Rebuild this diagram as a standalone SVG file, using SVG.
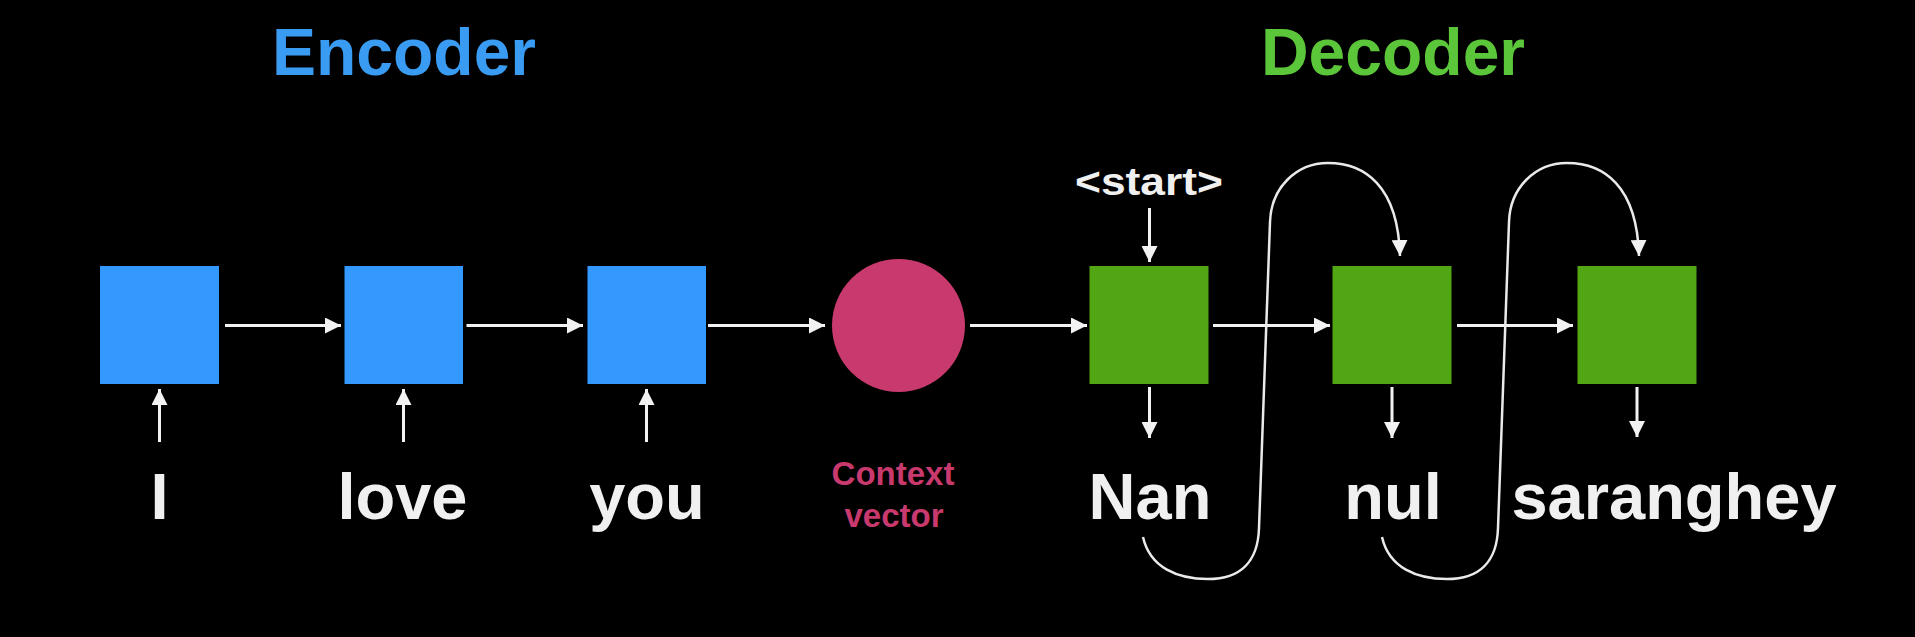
<svg xmlns="http://www.w3.org/2000/svg" width="1915" height="637" viewBox="0 0 1915 637">
<style>
.bg{fill:#000}
.enc{fill:#3399FF}
.dec{fill:#52A614}
.ctx{fill:#C8396E}
.word{font-family:"Liberation Sans",Arial,Helvetica,sans-serif;font-weight:bold;font-size:65px;fill:#F0F0F0;text-anchor:middle}
.title{font-family:"Liberation Sans",Arial,Helvetica,sans-serif;font-weight:bold;font-size:66px;text-anchor:middle}
.small{font-family:"Liberation Sans",Arial,Helvetica,sans-serif;font-weight:bold;font-size:33px;text-anchor:middle}
.arr{stroke:#F2F2F2;stroke-width:3;fill:none;marker-end:url(#ah)}
.loop{stroke:#EAEAEA;stroke-width:2.5;fill:none;marker-end:url(#ah)}
</style>
<defs>
<marker id="ah" markerUnits="userSpaceOnUse" markerWidth="16" markerHeight="16" refX="16" refY="8" orient="auto">
<path d="M0,0 L16,8 L0,16 Z" fill="#F2F2F2"/>
</marker>
</defs>
<rect class="bg" x="0" y="0" width="1915" height="637"/>
<text id="encoder-title" class="title" x="404" y="75" fill="#3A9BF2">Encoder</text>
<text id="decoder-title" class="title" x="1393" y="75" fill="#5CC63A">Decoder</text>
<g id="enc1"><rect class="enc" x="100" y="266" width="119" height="118"/></g>
<g id="enc2"><rect class="enc" x="344.5" y="266" width="118.5" height="118"/></g>
<g id="enc3"><rect class="enc" x="587.5" y="266" width="118.5" height="118"/></g>
<g id="context"><circle class="ctx" cx="898.5" cy="325.5" r="66.5"/>
<text class="small" x="893" y="485" fill="#C8396E">Context</text>
<text class="small" x="894" y="527" fill="#C8396E">vector</text></g>
<g id="dec1"><rect class="dec" x="1089.5" y="266" width="119" height="118"/></g>
<g id="dec2"><rect class="dec" x="1332.5" y="266" width="119" height="118"/></g>
<g id="dec3"><rect class="dec" x="1577.5" y="266" width="119" height="118"/></g>
<g id="in-I"><text class="word" x="159.5" y="519">I</text></g>
<g id="in-love"><text class="word" x="402.5" y="519">love</text></g>
<g id="in-you"><text class="word" x="647" y="519">you</text></g>
<g id="start"><text class="word" x="1149" y="195" style="font-size:38px" textLength="148" lengthAdjust="spacingAndGlyphs">&lt;start&gt;</text></g>
<g id="out-Nan"><text class="word" x="1150" y="519">Nan</text></g>
<g id="out-nul"><text class="word" x="1393" y="519">nul</text></g>
<g id="out-saranghey"><text class="word" x="1674" y="519">saranghey</text></g>
<g id="connectors">
<line class="arr" x1="225" y1="325.5" x2="341" y2="325.5"/>
<line class="arr" x1="466.5" y1="325.5" x2="583" y2="325.5"/>
<line class="arr" x1="708" y1="325.5" x2="825" y2="325.5"/>
<line class="arr" x1="970" y1="325.5" x2="1087" y2="325.5"/>
<line class="arr" x1="1213" y1="325.5" x2="1330" y2="325.5"/>
<line class="arr" x1="1457" y1="325.5" x2="1573" y2="325.5"/>
<line class="arr" x1="159.5" y1="442" x2="159.5" y2="389"/>
<line class="arr" x1="403.5" y1="442" x2="403.5" y2="389"/>
<line class="arr" x1="646.5" y1="442" x2="646.5" y2="389"/>
<line class="arr" x1="1149.5" y1="208" x2="1149.5" y2="262"/>
<line class="arr" x1="1149.5" y1="387" x2="1149.5" y2="438"/>
<line class="arr" x1="1392" y1="387" x2="1392" y2="438"/>
<line class="arr" x1="1637" y1="387" x2="1637" y2="437"/>
<path class="loop" d="M1143,537 C1150,568 1178,579 1208,579 C1240,579 1258,562 1259,528 L1270,222 C1271,188 1296,163 1328,163 C1364,163 1398,185 1400,256"/>
<path class="loop" d="M1382,537 C1389,568 1417,579 1447,579 C1479,579 1497,562 1498,528 L1509,222 C1510,188 1535,163 1567,163 C1603,163 1637,185 1639,256"/>
</g>
</svg>
